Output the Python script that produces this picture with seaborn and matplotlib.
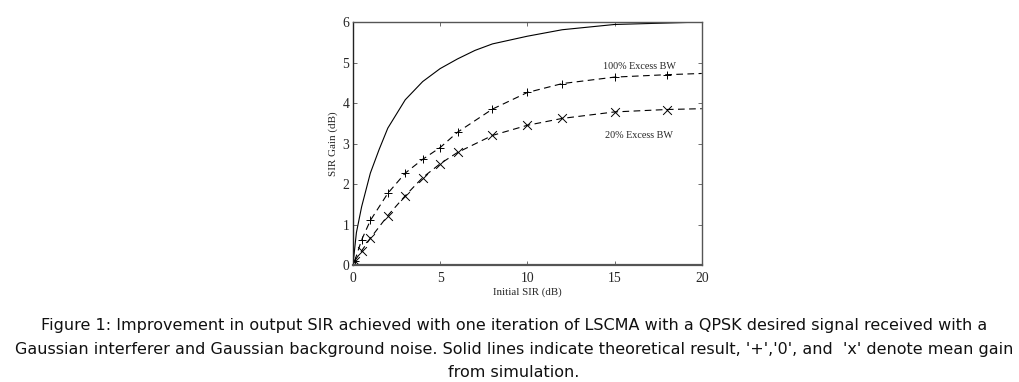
import numpy as np
import pandas as pd
import seaborn as sns
import matplotlib.pyplot as plt

# --- Datos ---
theory_x = [0, 0.2, 0.5, 1, 1.5, 2, 3, 4, 5, 6, 7, 8, 10, 12, 15, 20]
theory_y = [0, 0.8, 1.44, 2.27, 2.85, 3.38, 4.08, 4.53, 4.85, 5.09, 5.30, 5.46, 5.65, 5.81, 5.94, 6.0]

sim_x = [0.1, 0.5, 1, 2, 3, 4, 5, 6, 8, 10, 12, 15, 18]
bw100_y = [0.1, 0.62, 1.1, 1.77, 2.27, 2.61, 2.90, 3.28, 3.85, 4.26, 4.48, 4.64, 4.70]
bw20_y = [0.1, 0.35, 0.66, 1.22, 1.71, 2.16, 2.50, 2.78, 3.20, 3.45, 3.62, 3.78, 3.84]
bw100_end = 4.73
bw20_end = 3.86

caption = [
    "Figure 1: Improvement in output SIR achieved with one iteration of LSCMA with a QPSK desired signal received with a",
    "Gaussian interferer and Gaussian background noise. Solid lines indicate theoretical result, '+','0', and  'x' denote mean gain",
    "from simulation.",
]

# --- Grafico ---
sns.set_style("ticks")
plt.rcParams['font.family'] = ['Liberation Serif', 'DejaVu Serif']

fig = plt.figure(figsize=(10.2, 3.82), dpi=100)
ax = fig.add_axes([0.346, 0.3063, 0.342, 0.636])

theory = pd.DataFrame({"x": theory_x, "y": theory_y})
sns.lineplot(data=theory, x="x", y="y", ax=ax, color="black", linewidth=0.8)

for ys, end, mk in [(bw100_y, bw100_end, "+"), (bw20_y, bw20_end, "x")]:
    line = pd.DataFrame({"x": sim_x + [20], "y": ys + [end]})
    sns.lineplot(data=line, x="x", y="y", ax=ax, color="black", linewidth=0.8,
                 linestyle=(0, (6, 4)))
    pts = pd.DataFrame({"x": sim_x, "y": ys})
    sns.scatterplot(data=pts, x="x", y="y", ax=ax, marker=mk, color="black",
                    s=40, linewidth=0.7)

ax.text(16.4, 4.91, "100% Excess BW", fontsize=7.3, ha="center", va="center")
ax.text(16.4, 3.19, "20% Excess BW", fontsize=7.3, ha="center", va="center")

ax.set_xlim(0, 20)
ax.set_ylim(0, 6)
ax.set_xticks([0, 5, 10, 15, 20])
ax.set_yticks([0, 1, 2, 3, 4, 5, 6])
ax.set_xlabel("Initial SIR (dB)", fontsize=7.8, labelpad=2)
ax.set_ylabel("SIR Gain (dB)", fontsize=8, labelpad=3)
ax.tick_params(direction="in", top=True, right=True, length=3, width=0.6,
               labelsize=9.8, color="#555555")
ax.tick_params(axis="x", pad=5)
ax.tick_params(axis="y", pad=2.5)
for s in ax.spines.values():
    s.set_color("#555555")
    s.set_linewidth(1.0)
ax.spines["left"].set_color("#222222")
ax.spines["bottom"].set_linewidth(1.6)

for line, yy in zip(caption, [0.149, 0.086, 0.026]):
    fig.text(0.504, yy, line, ha="center", va="center", fontsize=11.5,
             family=["DejaVu Sans"], color="#111111")

fig.savefig("out.png", dpi=100)
